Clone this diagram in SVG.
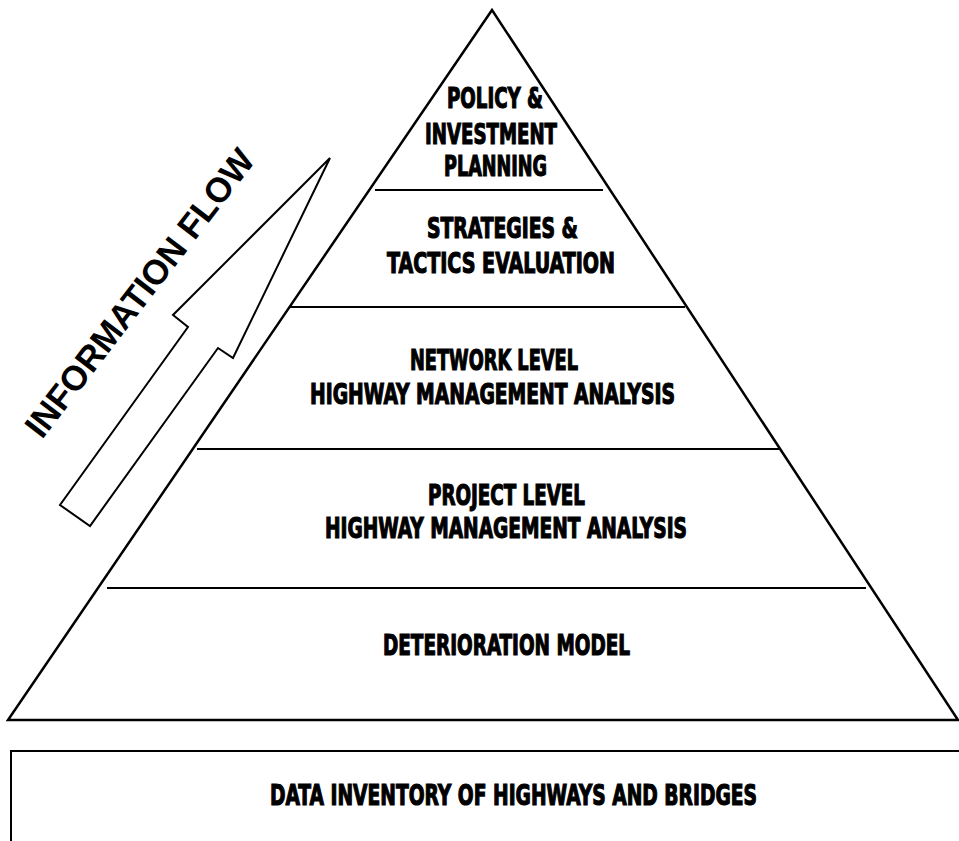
<svg xmlns="http://www.w3.org/2000/svg" width="959" height="841" viewBox="0 0 959 841">
<style>
.ln{stroke:#000;stroke-width:2;fill:none}
.sh{stroke:#000;stroke-width:2.5;fill:#fff;stroke-linejoin:miter}
.lbl{font-family:"Liberation Sans Narrow","DejaVu Sans Condensed","Liberation Sans",sans-serif;font-weight:bold;font-size:29px;fill:#000;stroke:#000;stroke-width:1.2}
.flow{font-family:"Liberation Sans","DejaVu Sans",sans-serif;font-weight:bold;font-size:35px;fill:#000}
</style>
<rect width="959" height="841" fill="#fff"/>
<g id="pyramid">
<polygon class="sh" points="492,10 8,720 958,720"/>
</g>
<g id="connectors">
<line class="ln" x1="375" y1="190" x2="603" y2="190"/>
<line class="ln" x1="290" y1="307" x2="685" y2="307"/>
<line class="ln" x1="197" y1="449" x2="779" y2="449"/>
<line class="ln" x1="107" y1="588" x2="866" y2="588"/>
</g>
<g id="policy">
<text class="lbl" x="447" y="108" textLength="96" lengthAdjust="spacingAndGlyphs">POLICY &amp;</text>
<text class="lbl" x="425" y="144" textLength="132" lengthAdjust="spacingAndGlyphs">INVESTMENT</text>
<text class="lbl" x="444" y="176" textLength="103" lengthAdjust="spacingAndGlyphs">PLANNING</text>
</g>
<g id="strategies">
<text class="lbl" x="427" y="238" textLength="151" lengthAdjust="spacingAndGlyphs">STRATEGIES &amp;</text>
<text class="lbl" x="387" y="273" textLength="228" lengthAdjust="spacingAndGlyphs">TACTICS EVALUATION</text>
</g>
<g id="network">
<text class="lbl" x="410" y="370" textLength="168" lengthAdjust="spacingAndGlyphs">NETWORK LEVEL</text>
<text class="lbl" x="310" y="404" textLength="365" lengthAdjust="spacingAndGlyphs">HIGHWAY MANAGEMENT ANALYSIS</text>
</g>
<g id="project">
<text class="lbl" x="428" y="505" textLength="157" lengthAdjust="spacingAndGlyphs">PROJECT LEVEL</text>
<text class="lbl" x="325" y="538" textLength="362" lengthAdjust="spacingAndGlyphs">HIGHWAY MANAGEMENT ANALYSIS</text>
</g>
<g id="deterioration">
<text class="lbl" x="383" y="655" textLength="247" lengthAdjust="spacingAndGlyphs">DETERIORATION MODEL</text>
</g>
<g id="data">
<rect class="ln" x="11" y="751" width="960" height="120"/>
<text class="lbl" x="270" y="805" textLength="487" lengthAdjust="spacingAndGlyphs">DATA INVENTORY OF HIGHWAYS AND BRIDGES</text>
</g>
<g id="flow">
<polygon class="sh" style="stroke-width:2" points="330,158 173,315 188,327 60,505 90,526 218,348 233,358"/>
<text class="flow" transform="translate(42,440) rotate(-52.5)" textLength="352" lengthAdjust="spacingAndGlyphs">INFORMATION FLOW</text>
</g>
</svg>
